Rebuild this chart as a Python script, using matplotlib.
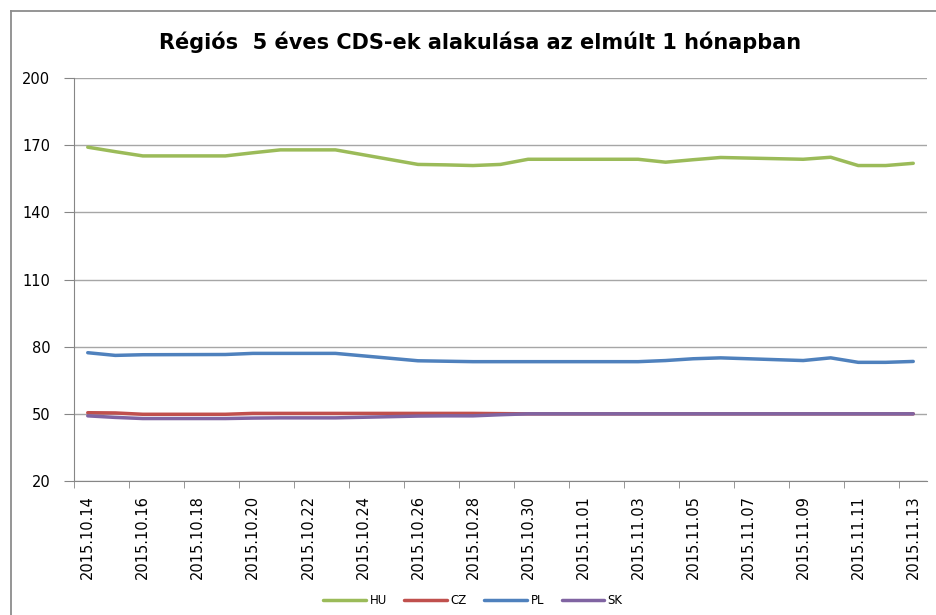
import matplotlib.pyplot as plt
import matplotlib.dates as mdates
import pandas as pd
from matplotlib.lines import Line2D

# trading days shown in the chart
dates = ["2015-10-14", "2015-10-15", "2015-10-16", "2015-10-19", "2015-10-20",
         "2015-10-21", "2015-10-22", "2015-10-23", "2015-10-26", "2015-10-27",
         "2015-10-28", "2015-10-29", "2015-10-30", "2015-11-02", "2015-11-03",
         "2015-11-04", "2015-11-05", "2015-11-06", "2015-11-09", "2015-11-10",
         "2015-11-11", "2015-11-12", "2015-11-13"]

hu = [169.1, 167.1, 165.2, 165.2, 166.6, 167.9, 167.9, 167.9, 161.4, 161.2,
      160.9, 161.4, 163.7, 163.7, 163.7, 162.4, 163.5, 164.5, 163.7, 164.6,
      160.9, 160.9, 161.9]
cz = [50.5, 50.4, 49.8, 49.8, 50.2, 50.2, 50.2, 50.2, 50.2, 50.2,
      50.2, 50.1, 50.0, 50.0, 50.0, 50.0, 50.0, 50.0, 50.0, 50.0,
      50.0, 50.0, 50.0]
pl = [77.3, 76.1, 76.4, 76.5, 77.0, 77.0, 77.0, 77.0, 73.7, 73.5,
      73.3, 73.3, 73.3, 73.3, 73.3, 73.8, 74.6, 75.0, 73.8, 75.0,
      73.0, 73.0, 73.4]
sk = [49.1, 48.4, 47.9, 47.9, 48.1, 48.2, 48.2, 48.2, 49.0, 49.1,
      49.1, 49.6, 50.0, 50.0, 50.0, 50.0, 50.0, 50.0, 50.0, 50.0,
      50.0, 50.0, 50.0]

series = [("HU", hu, "#9BBB59"), ("CZ", cz, "#C0504D"),
          ("PL", pl, "#4F81BD"), ("SK", sk, "#8064A2")]

title = "Régiós  5 éves CDS-ek alakulása az elmúlt 1 hónapban"
yticks = [20, 50, 80, 110, 140, 170, 200]

W, H = 936, 615
x = pd.to_datetime(dates)

fig = plt.figure(figsize=(W / 100, H / 100), dpi=100)
ax = fig.add_axes([74 / W, 1 - 481 / H, (927 - 74) / W, (481 - 78) / H])

for name, vals, col in series:
    ax.plot(x, vals, color=col, lw=2.5, label=name, solid_capstyle="round")

grid_col = "#A6A6A6"
ax.set_ylim(20, 200)
ax.set_yticks(yticks)
ax.yaxis.grid(True, color=grid_col, lw=1)
ax.set_axisbelow(True)

start = pd.Timestamp("2015-10-14")
ax.set_xlim(start - pd.Timedelta(hours=12), pd.Timestamp("2015-11-13 12:00"))
label_days = pd.date_range(start, "2015-11-13", freq="2D")
ax.set_xticks(label_days)
ax.xaxis.set_major_formatter(mdates.DateFormatter("%Y.%m.%d"))
ax.set_xticks(label_days - pd.Timedelta(hours=12), minor=True)
ax.tick_params(axis="x", which="major", length=0, pad=10, rotation=90,
               labelsize=10.5, colors="black")
ax.tick_params(axis="x", which="minor", length=5, color="#868686", direction="out")
ax.tick_params(axis="y", length=7, color="#868686", pad=10, labelsize=10.5)

for s in ["top", "right"]:
    ax.spines[s].set_visible(False)
for s in ["left", "bottom"]:
    ax.spines[s].set_color("#868686")

fig.text(480 / W, 1 - 42 / H, title, ha="center", va="center",
         fontsize=15, fontweight="bold")

fig.legend(loc="center", bbox_to_anchor=(473 / W, 1 - 601 / H), ncol=4,
           frameon=False, fontsize=8.5, handlelength=3.6, handletextpad=0.3,
           columnspacing=1.5)

# chart area border (left and top edges)
fig.add_artist(Line2D([11 / W, 11 / W], [0, 1 - 11 / H], transform=fig.transFigure,
                      color="#8C8C8C", lw=1.3))
fig.add_artist(Line2D([11 / W, 1], [1 - 11 / H, 1 - 11 / H], transform=fig.transFigure,
                      color="#8C8C8C", lw=1.3))

fig.savefig("out.png", dpi=100)
